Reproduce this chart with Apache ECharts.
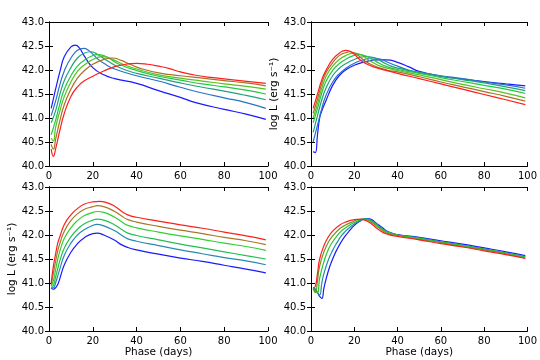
<!DOCTYPE html>
<html>
<head>
<meta charset="utf-8">
<script src="https://cdn.jsdelivr.net/npm/echarts@6/dist/echarts.min.js"></script>
<style>
  html, body { margin: 0; padding: 0; background: #fff; }
  #chart { width: 540px; height: 360px; }
</style>
</head>
<body>
<div id="chart"></div>
<script>
// tick labels
var xTicks = [0, 20, 40, 60, 80, 100];
var yTicks = [40.0, 40.5, 41.0, 41.5, 42.0, 42.5, 43.0];
var yName = 'log L (erg s\u207B\u00B9)';
var xName = 'Phase (days)';

// panel 1 (top left): [phase, log L]
var p1Blue  = [[1,41.2],[2,41.4],[3,41.6],[5,41.97],[7,42.28],[10,42.48],[12,42.52],[14,42.45],[16,42.3],[20,42.05],[25,41.9],[30,41.82],[40,41.72],[50,41.57],[60,41.43],[67,41.32],[80,41.18],[90,41.08],[99,40.97]];
var p1Steel = [[1,41.05],[3,41.35],[5,41.7],[7,41.98],[10,42.25],[13,42.41],[16,42.45],[18,42.41],[20,42.33],[22,42.24],[25,42.14],[30,42.02],[40,41.88],[50,41.77],[60,41.64],[70,41.52],[80,41.42],[90,41.32],[99,41.2]];
var p1Teal  = [[1,40.9],[3,41.15],[5,41.5],[7,41.78],[10,42.05],[13,42.25],[16,42.35],[19,42.38],[22,42.33],[25,42.24],[30,42.1],[35,42.0],[40,41.93],[50,41.83],[60,41.73],[70,41.64],[80,41.56],[90,41.47],[99,41.38]];
var p1Green = [[1,40.65],[3,40.95],[5,41.3],[7,41.6],[10,41.88],[13,42.08],[16,42.2],[19,42.28],[22,42.32],[25,42.3],[28,42.23],[32,42.12],[40,41.99],[50,41.87],[60,41.79],[70,41.71],[80,41.65],[90,41.58],[99,41.5]];
var p1Lime  = [[1,40.58],[2,40.52],[3,40.8],[5,41.15],[7,41.45],[10,41.75],[13,41.97],[16,42.1],[20,42.22],[24,42.28],[27,42.26],[30,42.2],[35,42.1],[40,42.02],[50,41.9],[60,41.83],[70,41.77],[80,41.71],[90,41.66],[99,41.6]];
var p1Olive = [[1,40.45],[2,40.35],[3,40.55],[5,40.95],[7,41.28],[10,41.6],[13,41.83],[16,41.98],[20,42.12],[25,42.22],[29,42.25],[33,42.2],[37,42.12],[42,42.03],[50,41.94],[60,41.88],[70,41.83],[80,41.78],[90,41.73],[99,41.67]];
var p1Red   = [[1,40.35],[2,40.2],[3,40.35],[5,40.75],[7,41.1],[10,41.45],[13,41.65],[16,41.77],[20,41.87],[25,41.98],[30,42.07],[35,42.12],[40,42.14],[45,42.12],[50,42.08],[55,42.03],[60,41.96],[67,41.89],[75,41.84],[85,41.79],[99,41.72]];

// panel 2 (top right)
var p2Blue  = [[1,40.3],[2,40.28],[3,40.65],[4,41.0],[5,41.15],[7,41.37],[10,41.68],[13,41.88],[16,42.0],[20,42.1],[25,42.17],[30,42.21],[35,42.21],[40,42.16],[45,42.07],[50,41.97],[60,41.87],[70,41.81],[80,41.76],[90,41.71],[99,41.67]];
var p2Steel = [[1,40.5],[3,40.85],[5,41.2],[7,41.48],[10,41.75],[13,41.92],[16,42.03],[20,42.14],[24,42.21],[28,42.25],[32,42.23],[36,42.15],[40,42.08],[45,42.0],[50,41.95],[60,41.88],[70,41.82],[80,41.75],[90,41.69],[99,41.62]];
var p2Teal  = [[1,40.7],[3,41.05],[5,41.38],[7,41.63],[10,41.88],[13,42.03],[16,42.13],[20,42.22],[25,42.28],[29,42.26],[33,42.17],[37,42.08],[42,42.02],[50,41.95],[60,41.87],[70,41.8],[80,41.73],[90,41.65],[99,41.57]];
var p2Green = [[1,40.9],[3,41.2],[5,41.52],[7,41.77],[10,41.99],[13,42.13],[16,42.22],[19,42.29],[22,42.32],[26,42.28],[30,42.18],[35,42.07],[40,42.01],[50,41.93],[60,41.84],[70,41.76],[80,41.68],[90,41.6],[99,41.51]];
var p2Lime  = [[1,41.0],[3,41.3],[5,41.62],[7,41.87],[10,42.08],[13,42.22],[16,42.3],[20,42.35],[23,42.32],[27,42.2],[32,42.08],[40,41.99],[50,41.9],[60,41.8],[70,41.7],[80,41.61],[90,41.52],[99,41.42]];
var p2Olive = [[1,41.1],[3,41.4],[5,41.72],[7,41.95],[10,42.15],[13,42.3],[16,42.36],[18,42.38],[21,42.33],[24,42.22],[28,42.11],[35,42.0],[40,41.96],[50,41.86],[60,41.75],[70,41.65],[80,41.55],[90,41.45],[99,41.35]];
var p2Red   = [[1,41.2],[3,41.5],[5,41.8],[7,42.0],[10,42.22],[13,42.35],[16,42.41],[18,42.39],[20,42.33],[22,42.24],[25,42.14],[30,42.05],[40,41.93],[50,41.82],[60,41.71],[70,41.6],[80,41.49],[90,41.38],[99,41.28]];

// panel 3 (bottom left)
var p3Blue  = [[1,40.9],[2,40.87],[3,40.9],[4,40.97],[5,41.1],[7,41.38],[10,41.64],[13,41.82],[16,41.94],[20,42.03],[22,42.04],[25,42.0],[30,41.89],[33,41.8],[36,41.74],[40,41.69],[50,41.6],[60,41.52],[70,41.45],[80,41.37],[90,41.29],[99,41.21]];
var p3Steel = [[1,40.9],[2,40.9],[3,41.0],[4,41.15],[5,41.3],[7,41.58],[10,41.83],[13,42.0],[16,42.11],[20,42.2],[22,42.22],[25,42.19],[30,42.09],[33,42.0],[36,41.92],[40,41.87],[50,41.78],[60,41.69],[70,41.61],[80,41.53],[90,41.46],[99,41.38]];
var p3Green = [[1,40.9],[2,40.95],[3,41.12],[4,41.3],[5,41.47],[7,41.73],[10,41.96],[13,42.12],[16,42.23],[20,42.31],[22,42.33],[25,42.31],[30,42.21],[33,42.12],[36,42.04],[40,41.99],[50,41.9],[60,41.81],[70,41.73],[80,41.65],[90,41.57],[99,41.5]];
var p3Lime  = [[1,40.93],[2,41.05],[3,41.27],[4,41.5],[5,41.67],[7,41.93],[10,42.15],[13,42.3],[16,42.4],[20,42.47],[22,42.49],[25,42.47],[30,42.37],[33,42.28],[36,42.2],[40,42.15],[50,42.06],[60,41.98],[70,41.91],[80,41.83],[90,41.76],[99,41.68]];
var p3Brown = [[1,40.96],[2,41.2],[3,41.45],[4,41.67],[5,41.83],[7,42.08],[10,42.3],[13,42.44],[16,42.53],[20,42.59],[22,42.61],[25,42.59],[30,42.49],[33,42.4],[36,42.32],[40,42.27],[50,42.18],[60,42.1],[70,42.03],[80,41.95],[90,41.88],[99,41.8]];
var p3Red   = [[1,41.0],[2,41.35],[3,41.6],[4,41.83],[5,41.97],[7,42.22],[10,42.42],[13,42.55],[16,42.64],[20,42.69],[23,42.7],[26,42.68],[30,42.6],[33,42.5],[36,42.42],[40,42.37],[50,42.29],[60,42.21],[70,42.14],[80,42.06],[90,41.98],[99,41.9]];

// panel 4 (bottom right)
var p4Blue  = [[1,40.9],[2,40.87],[3,40.8],[4,40.72],[5,40.68],[6,40.9],[8,41.25],[10,41.5],[12,41.7],[14,41.86],[16,41.99],[18,42.1],[20,42.2],[23,42.3],[26,42.34],[28,42.32],[30,42.25],[33,42.15],[36,42.06],[40,42.01],[50,41.95],[60,41.88],[70,41.81],[80,41.73],[90,41.65],[99,41.57]];
var p4Teal  = [[1,40.9],[2,40.86],[3,40.8],[4,40.75],[5,41.0],[6,41.2],[8,41.48],[10,41.68],[12,41.84],[14,41.98],[16,42.08],[18,42.16],[20,42.23],[23,42.31],[25,42.34],[28,42.3],[31,42.2],[34,42.1],[37,42.04],[40,42.0],[50,41.94],[60,41.86],[70,41.79],[80,41.71],[90,41.63],[99,41.55]];
var p4Green = [[1,40.9],[2,40.82],[3,40.8],[4,41.1],[6,41.45],[8,41.7],[10,41.86],[12,41.98],[14,42.08],[16,42.15],[18,42.21],[21,42.28],[24,42.33],[27,42.31],[30,42.22],[33,42.12],[36,42.05],[40,42.0],[50,41.93],[60,41.85],[70,41.78],[80,41.7],[90,41.62],[99,41.54]];
var p4Olive = [[1,40.88],[2,40.8],[3,41.05],[4,41.35],[6,41.65],[8,41.85],[10,41.98],[13,42.12],[16,42.21],[19,42.27],[22,42.32],[25,42.32],[28,42.26],[31,42.16],[35,42.04],[40,41.99],[50,41.91],[60,41.84],[70,41.76],[80,41.69],[90,41.61],[99,41.52]];
var p4Red   = [[1,40.9],[2,40.93],[3,41.2],[4,41.5],[6,41.78],[8,41.96],[10,42.08],[13,42.2],[16,42.27],[20,42.32],[23,42.33],[25,42.31],[28,42.23],[31,42.12],[35,42.02],[40,41.97],[50,41.9],[60,41.82],[70,41.75],[80,41.67],[90,41.59],[99,41.51]];

var panels = [
  { lines: [p1Blue, p1Steel, p1Teal, p1Green, p1Lime, p1Olive, p1Red],
    colors: ['#1a1aff', '#2a72c8', '#22a07c', '#22c840', '#58c020', '#a87024', '#ff1e1e'],
    grid: { left: 49, top: 22 }, yName: '', xName: '' },
  { lines: [p2Blue, p2Steel, p2Teal, p2Green, p2Lime, p2Olive, p2Red],
    colors: ['#1a1aff', '#2a72c8', '#22a07c', '#22c840', '#58c020', '#a87024', '#ff1e1e'],
    grid: { left: 311, top: 22 }, yName: yName, xName: '' },
  { lines: [p3Blue, p3Steel, p3Green, p3Lime, p3Brown, p3Red],
    colors: ['#1a1aff', '#2a88b4', '#22c050', '#30d030', '#a87828', '#ff1e1e'],
    grid: { left: 49, top: 187 }, yName: yName, xName: xName },
  { lines: [p4Blue, p4Teal, p4Green, p4Olive, p4Red],
    colors: ['#1a1aff', '#2090a8', '#22c830', '#789020', '#ff1e1e'],
    grid: { left: 311, top: 187 }, yName: '', xName: xName }
];

var chart = echarts.init(document.getElementById('chart'));
var font = 'DejaVu Sans';
var line = { show: true, lineStyle: { color: '#000', width: 1 } };
var tick = { show: true, inside: true, length: 4, lineStyle: { color: '#000', width: 1 } };

var grids = [], xAxes = [], yAxes = [], series = [];
panels.forEach(function (p, i) {
  grids.push({ left: p.grid.left, top: p.grid.top, width: 219, height: 144 });
  // bottom + top x axes
  xAxes.push({
    gridIndex: i, type: 'value', position: 'bottom', min: 0, max: 100, interval: 20,
    axisLine: line, axisTick: tick, splitLine: { show: false },
    axisLabel: { color: '#000', fontFamily: font, fontSize: 10, margin: 5 },
    name: p.xName, nameLocation: 'middle', nameGap: 14,
    nameTextStyle: { color: '#000', fontFamily: font, fontSize: 10.5 }
  });
  xAxes.push({
    gridIndex: i, type: 'value', position: 'top', min: 0, max: 100, interval: 20,
    axisLine: line, axisTick: tick, splitLine: { show: false }, axisLabel: { show: false }
  });
  // left + right y axes
  yAxes.push({
    gridIndex: i, type: 'value', position: 'left', min: 40, max: 43, interval: 0.5,
    axisLine: line, axisTick: tick, splitLine: { show: false },
    axisLabel: { color: '#000', fontFamily: font, fontSize: 10, margin: 5,
      formatter: function (v) { return v.toFixed(1); } },
    name: p.yName, nameLocation: 'middle', nameGap: 30,
    nameTextStyle: { color: '#000', fontFamily: font, fontSize: 10.5 }
  });
  yAxes.push({
    gridIndex: i, type: 'value', position: 'right', min: 40, max: 43, interval: 0.5,
    axisLine: line, axisTick: tick, splitLine: { show: false }, axisLabel: { show: false }
  });
  p.lines.forEach(function (d, j) {
    series.push({
      type: 'line', xAxisIndex: 2 * i, yAxisIndex: 2 * i, data: d,
      showSymbol: false, smooth: 0.5,
      lineStyle: { color: p.colors[j], width: 1.2 }, z: 2 + j
    });
  });
});

chart.setOption({
  animation: false,
  grid: grids,
  xAxis: xAxes,
  yAxis: yAxes,
  series: series
});
</script>
</body>
</html>
